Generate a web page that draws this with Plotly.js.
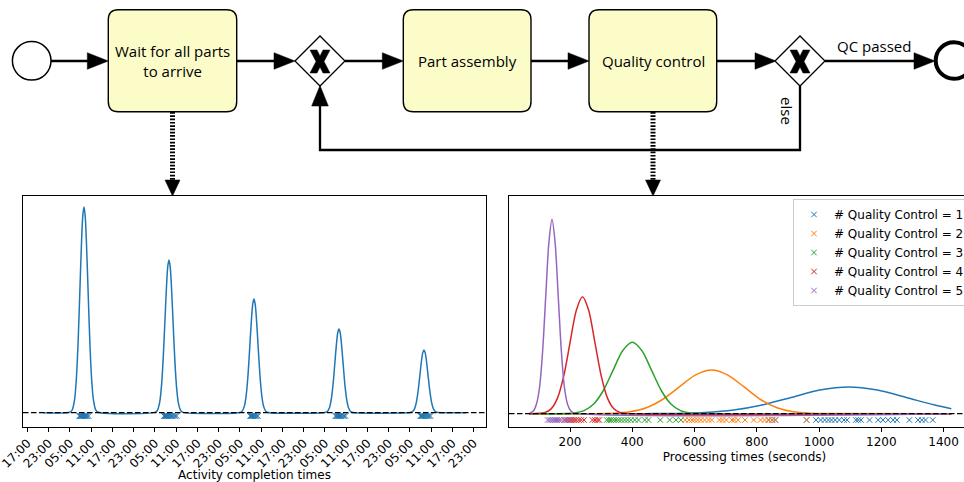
<!DOCTYPE html>
<html><head><meta charset="utf-8">
<script src="https://cdn.plot.ly/plotly-3.0.1.min.js"></script>
<style>html,body{margin:0;padding:0;overflow:hidden;background:#fff;width:964px;height:482px}#chart{width:984px;height:482px}</style>
</head><body><div id="chart"></div>
<script>
const W = 984, H = 482;

// ---------- left panel: activity completion times ----------
const peakTimes = ['2023-01-02 09:00','2023-01-03 09:00','2023-01-04 09:00','2023-01-05 09:00','2023-01-06 09:00'];
const curveOffsetsMin = [-240,-200,-160,-130,-100,-70,-40,-20,0,20,40,70,100,130,160,200,240];
const peakValues1 = [0.4,2.7,12.9,33.1,69.7,121.2,173.0,197.1,205.7,197.1,173.0,121.2,69.7,33.1,12.9,2.7,0.4];
const peakValues2 = [0.3,2.0,9.6,24.6,51.8,89.9,128.4,146.3,152.7,146.3,128.4,89.9,51.8,24.6,9.6,2.0,0.3];
const peakValues3 = [0.2,1.5,7.1,18.3,38.5,67.0,95.6,108.9,113.7,108.9,95.6,67.0,38.5,18.3,7.1,1.5,0.2];
const peakValues4 = [0.2,1.1,5.3,13.5,28.4,49.3,70.4,80.2,83.7,80.2,70.4,49.3,28.4,13.5,5.3,1.1,0.2];
const peakValues5 = [0.1,0.8,3.9,10.1,21.3,36.9,52.7,60.1,62.7,60.1,52.7,36.9,21.3,10.1,3.9,0.8,0.1];
const curveStart = '2023-01-01 21:26';
const curveEnd = '2023-01-06 20:50';
const completionTimes = [
 '2023-01-02 07:40','2023-01-02 07:55','2023-01-02 08:05','2023-01-02 08:15','2023-01-02 08:25','2023-01-02 08:35',
 '2023-01-02 08:50','2023-01-02 09:05','2023-01-02 09:20','2023-01-02 09:35','2023-01-02 09:55','2023-01-02 10:20',
 '2023-01-03 07:35','2023-01-03 07:50','2023-01-03 08:00','2023-01-03 08:10','2023-01-03 08:20','2023-01-03 08:30',
 '2023-01-03 08:40','2023-01-03 08:55','2023-01-03 09:10','2023-01-03 09:30','2023-01-03 09:50','2023-01-03 10:15',
 '2023-01-03 10:45','2023-01-03 11:10',
 '2023-01-04 07:55','2023-01-04 08:10','2023-01-04 08:25','2023-01-04 08:40','2023-01-04 08:55','2023-01-04 09:10',
 '2023-01-04 09:25','2023-01-04 09:45','2023-01-04 10:05',
 '2023-01-05 08:00','2023-01-05 08:15','2023-01-05 08:30','2023-01-05 08:45','2023-01-05 09:00','2023-01-05 09:15',
 '2023-01-05 09:35','2023-01-05 10:00','2023-01-05 10:25','2023-01-05 10:50',
 '2023-01-06 08:00','2023-01-06 08:10','2023-01-06 08:25','2023-01-06 08:40','2023-01-06 08:55','2023-01-06 09:10',
 '2023-01-06 09:25','2023-01-06 09:45','2023-01-06 10:05','2023-01-06 10:30','2023-01-06 10:50'
];

// ---------- right panel: processing times by # quality control ----------
const qcNames = ['# Quality Control = 1','# Quality Control = 2','# Quality Control = 3','# Quality Control = 4','# Quality Control = 5'];
const qcColors = ['#1f77b4','#ff7f0e','#2ca02c','#d62728','#9467bd'];
const qcCurveX1 = [68,448,540,632,725,817,910,1002,1095,1187,1280,1372,1425];
const qcCurveY1 = [0,0.06,0.3,1.17,3.6,8.7,16.2,23.6,26.7,23.6,16.2,8.7,5.0];
const qcCurveX2 = [68,340,392,445,497,550,602,655,707,760,812,865,917,970,1022,1425];
const qcCurveY2 = [0,0.5,1.9,5.9,14.2,26.5,38.6,43.7,38.6,26.5,14.2,5.9,1.9,0.5,0.1,0];
const qcCurveX3 = [68,214,245,276,307,338,369,400,431,462,493,524,555,586,617,1425];
const qcCurveY3 = [0,0.8,3.1,9.7,23.2,43.3,63.0,71.4,63.0,43.3,23.2,9.7,3.1,0.8,0.16,0];
const qcCurveX4 = [68,120,140,160,180,200,220,240,260,280,300,320,340,360,380,1425];
const qcCurveY4 = [0,1.3,5.1,15.8,38.0,71.0,103.3,117,103.3,71.0,38.0,15.8,5.1,1.3,0.25,0];
const qcCurveX5 = [68,82,92,102,112,122,132,142,152,162,172,182,192,202,212,1425];
const qcCurveY5 = [0,2.6,9.5,26.2,63.0,117.7,171.2,194.4,171.2,117.7,63.0,26.2,9.5,3.0,0.8,0];
const qcTimes1 = [838,850,860,960,990,1005,1018,1030,1040,1052,1065,1080,1090,1118,1126,1135,1162,1190,1205,1222,1238,1250,1290,1318,1330,1342,1365];
const qcTimes2 = [570,582,592,600,610,620,632,645,655,680,690,702,720,728,740,762,790,812,825,838,848,858,960];
const qcTimes3 = [318,326,332,340,348,356,365,375,385,395,408,420,440,452,490,520,540,556];
const qcTimes4 = [185,195,202,208,214,220,228,236,245,272,280,288,294];
const qcTimes5 = [128,134,140,146,152,158,165,172,180,190,200];
const xTicks2 = [200,400,600,800,1000,1200,1400];

// ---------- helpers ----------
function toMs(s){const [d,t]=s.split(' ');const [Y,M,D]=d.split('-').map(Number);const [h,m]=t.split(':').map(Number);return Date.UTC(Y,M-1,D,h,m);}
function fmt(ms){return new Date(ms).toISOString().slice(0,19).replace('T',' ');}
const X = px => px / W;
const Y = py => 1 - py / H;
const P = (x,y) => X(x) + ',' + Y(y);

// left curve
const peakValues = [peakValues1,peakValues2,peakValues3,peakValues4,peakValues5];
const lx = [curveStart], ly = [0];
peakTimes.forEach((pt,i)=>{
  const base = toMs(pt);
  curveOffsetsMin.forEach((o,j)=>{ lx.push(fmt(base + o*60000)); ly.push(peakValues[i][j]); });
});
lx.push(curveEnd); ly.push(0);

const traces = [];
traces.push({type:'scatter', mode:'lines', x:lx, y:ly, xaxis:'x', yaxis:'y',
  line:{color:'#1f77b4', width:1.5, shape:'spline', smoothing:0.8}, showlegend:false, hoverinfo:'skip'});
traces.push({type:'scatter', mode:'markers', x:completionTimes, y:completionTimes.map(()=>-3.3), xaxis:'x', yaxis:'y',
  marker:{symbol:'x-thin', size:5.5, color:'#1f77b4', line:{color:'#1f77b4', width:1}}, showlegend:false, hoverinfo:'skip'});

const qcCurvesX = [qcCurveX1,qcCurveX2,qcCurveX3,qcCurveX4,qcCurveX5];
const qcCurvesY = [qcCurveY1,qcCurveY2,qcCurveY3,qcCurveY4,qcCurveY5];
const qcTimes = [qcTimes1,qcTimes2,qcTimes3,qcTimes4,qcTimes5];
for (let k=0;k<5;k++){
  traces.push({type:'scatter', mode:'lines', x:qcCurvesX[k], y:qcCurvesY[k], xaxis:'x2', yaxis:'y2',
    line:{color:qcColors[k], width:1.5, shape:'spline', smoothing:0.8}, showlegend:false, hoverinfo:'skip'});
  traces.push({type:'scatter', mode:'markers', name:qcNames[k], x:qcTimes[k], y:qcTimes[k].map(()=>-6.3), xaxis:'x2', yaxis:'y2',
    marker:{symbol:'x-thin', size:5.5, color:qcColors[k], line:{color:qcColors[k], width:1}}, hoverinfo:'skip'});
}

// ---------- BPMN diagram shapes ----------
const shapes = [];
const blk = '#000';
function line(x0,y0,x1,y1,w,extra){ shapes.push(Object.assign({type:'line', xref:'paper', yref:'paper', x0:X(x0), y0:Y(y0), x1:X(x1), y1:Y(y1), line:{color:blk, width:w}}, extra||{})); }
function poly(pts, fill){ shapes.push({type:'path', xref:'paper', yref:'paper', path:'M'+pts.map(p=>P(p[0],p[1])).join(' L')+' Z', fillcolor:fill||blk, line:{color:fill||blk, width:0.5}}); }
function arrowR(x0,x1,y){ line(x0,y,x1-20,y,2.3); poly([[x1,y],[x1-21,y-8.3],[x1-21,y+8.3]]); }
function roundRect(x0,y0,x1,y1,r){
  const p = 'M'+P(x0+r,y0)+' L'+P(x1-r,y0)+' Q'+P(x1,y0)+' '+P(x1,y0+r)+' L'+P(x1,y1-r)+' Q'+P(x1,y1)+' '+P(x1-r,y1)+
            ' L'+P(x0+r,y1)+' Q'+P(x0,y1)+' '+P(x0,y1-r)+' L'+P(x0,y0+r)+' Q'+P(x0,y0)+' '+P(x0+r,y0)+' Z';
  shapes.push({type:'path', xref:'paper', yref:'paper', path:p, fillcolor:'#fcfcc9', line:{color:blk, width:1.4}});
}
function circle(cx,cy,r,w){ shapes.push({type:'circle', xref:'paper', yref:'paper', x0:X(cx-r), x1:X(cx+r), y0:Y(cy+r), y1:Y(cy-r), fillcolor:'#fff', line:{color:blk, width:w}}); }
function gateway(cx,cy){
  shapes.push({type:'path', xref:'paper', yref:'paper', path:'M'+P(cx-25,cy)+' L'+P(cx,cy-25)+' L'+P(cx+25,cy)+' L'+P(cx,cy+25)+' Z', fillcolor:'#fff', line:{color:blk, width:1.3}});
  const c = cx, m = cy+0.5;
  poly([[c-10,m-11.5],[c-3,m-11.5],[c,m-5.5],[c+3,m-11.5],[c+10,m-11.5],[c+4,m],[c+10,m+11.5],[c+3,m+11.5],[c,m+5.5],[c-3,m+11.5],[c-10,m+11.5],[c-4,m]]);
}
function dotted(x,y0,y1){
  line(x,y0,x,y1-15,5,{line:{color:blk, width:5, dash:'1.7px,1.6px'}});
  poly([[x,y1],[x-7.5,y1-16],[x+7.5,y1-16]]);
}

circle(31.7,60.8,19.3,1.5);
arrowR(51,108.3,61);
roundRect(108.3,9.7,236.7,111.7,10);
arrowR(236.7,295,61);
gateway(320,61);
arrowR(345,403.3,61);
roundRect(403.3,9.7,531,111.7,10);
arrowR(531,589,61);
roundRect(589,9.7,716.7,111.7,10);
arrowR(716.7,776,61);
gateway(800,61);
arrowR(825,935,61);
circle(954,60.5,18.3,4);
// loop back
shapes.push({type:'path', xref:'paper', yref:'paper', path:'M'+P(800,86)+' L'+P(800,150)+' L'+P(320,150)+' L'+P(320,104), line:{color:blk, width:2.3}});
poly([[320,85.5],[311.7,106],[328.3,106]]);
dotted(172.5,112,196);
dotted(653,112,196);

// dashed baselines (drawn on top of curves)
shapes.push({type:'line', xref:'x domain', yref:'y', x0:0, x1:1, y0:0, y1:0, layer:'above', line:{color:blk, width:1.3, dash:'5.5px,2.5px'}});
shapes.push({type:'line', xref:'x2 domain', yref:'y2', x0:0, x1:1, y0:0, y1:0, layer:'above', line:{color:blk, width:1.3, dash:'5.5px,2.5px'}});

const bf = {family:'Open Sans, Noto Sans, sans-serif', size:15, color:'#000'};
function ann(text,x,y,extra){ return Object.assign({text:text, x:X(x), y:Y(y), xref:'paper', yref:'paper', showarrow:false, xanchor:'center', yanchor:'middle', font:bf}, extra||{}); }
const annotations = [
  ann('Wait for all parts<br>to arrive',172.5,61),
  ann('Part assembly',467,61),
  ann('Quality control',653,61),
  ann('QC passed',873.5,45.5),
  ann('else',786.7,110.8,{textangle:90})
];

const tf = {family:'DejaVu Sans, sans-serif', size:12, color:'#000'};
const layout = {
  width:W, height:H, margin:{l:0,r:0,t:0,b:0}, paper_bgcolor:'#fff', plot_bgcolor:'#fff',
  showlegend:true,
  legend:{x:X(793), y:Y(199), xanchor:'left', yanchor:'top', bgcolor:'rgba(255,255,255,0.8)', bordercolor:'#cccccc', borderwidth:1, font:tf},
  xaxis:{domain:[X(23),X(486)], anchor:'y', type:'date', range:['2023-01-01 15:47','2023-01-07 02:31'],
    tick0:'2023-01-01 17:00', dtick:6*3600*1000, tickformat:'%H:%M', tickangle:-45, ticklabeloverflow:'allow',
    ticks:'outside', ticklen:3.5, tickwidth:1, tickcolor:'#000', showline:true, linecolor:'#000', linewidth:1, mirror:true,
    showgrid:false, zeroline:false, tickfont:tf, automargin:false,
    title:{text:'Activity completion times', font:tf, standoff:4}},
  yaxis:{domain:[1-427/H, 1-196/H], anchor:'x', range:[-14.3,216.7], showticklabels:false, ticks:'',
    showline:true, linecolor:'#000', linewidth:1, mirror:true, showgrid:false, zeroline:false, automargin:false},
  xaxis2:{domain:[X(509),X(980)], anchor:'y2', range:[3.9,1517], tickvals:xTicks2, ticktext:xTicks2.map(String),
    ticks:'outside', ticklen:3.5, tickwidth:1, tickcolor:'#000', showline:true, linecolor:'#000', linewidth:1, mirror:true,
    showgrid:false, zeroline:false, tickfont:tf, automargin:false,
    title:{text:'Processing times (seconds)', font:tf, standoff:4}},
  yaxis2:{domain:[1-427/H, 1-196/H], anchor:'x2', range:[-13.3,217.7], showticklabels:false, ticks:'',
    showline:true, linecolor:'#000', linewidth:1, mirror:true, showgrid:false, zeroline:false, automargin:false},
  shapes:shapes, annotations:annotations
};
Plotly.newPlot('chart', traces, layout, {displayModeBar:false, staticPlot:true});
</script></body></html>
